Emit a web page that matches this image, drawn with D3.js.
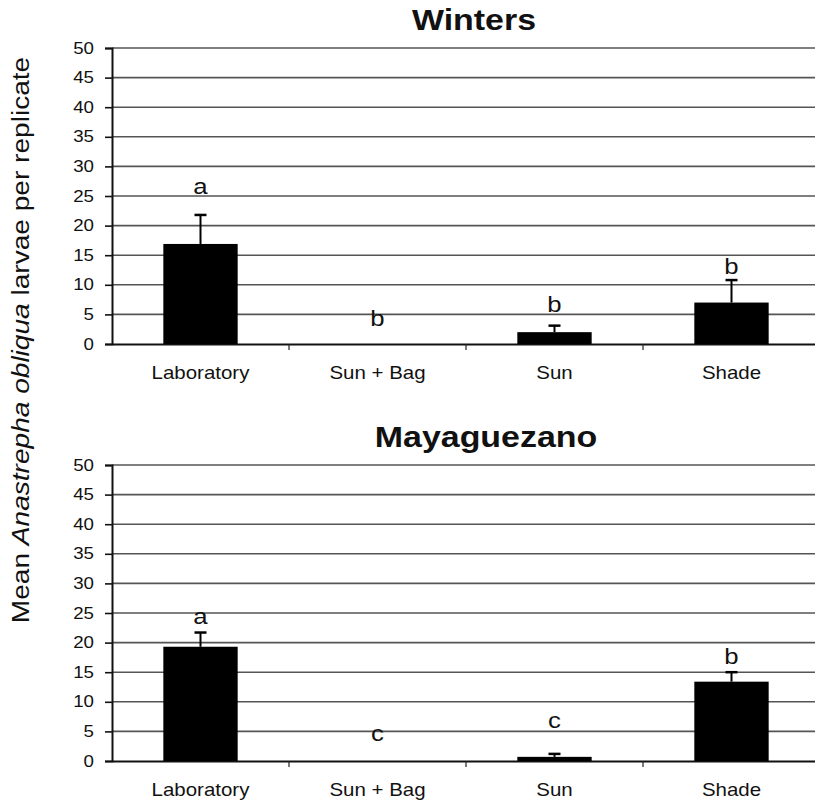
<!DOCTYPE html>
<html>
<head>
<meta charset="utf-8">
<script src="https://cdn.jsdelivr.net/npm/d3@7"></script>
<style>
  body { margin: 0; background: #fff; }
  svg { display: block; font-family: "Liberation Sans", Arial, sans-serif; }
</style>
</head>
<body>
<svg id="chart" width="815" height="803"></svg>
<script>
// Treatments along the x axis
const categories = ["Laboratory", "Sun + Bag", "Sun", "Shade"];
const yTicks = [0, 5, 10, 15, 20, 25, 30, 35, 40, 45, 50];

// Winters: mean larvae per replicate, standard error, separation letters
const wintersMean = [16.9, 0, 2.0, 7.0];
const wintersSE = [4.9, 0, 1.1, 3.8];
const wintersLetters = ["a", "b", "b", "b"];
const wintersLetterLevel = [25.3, 3.0, 5.4, 11.8];

// Mayaguezano
const mayaMean = [19.3, 0, 0.7, 13.4];
const mayaSE = [2.4, 0, 0.5, 1.6];
const mayaLetters = ["a", "c", "c", "b"];
const mayaLetterLevel = [23.1, 3.3, 5.6, 16.4];

const panels = [
  { title: "Winters", mean: wintersMean, se: wintersSE, letters: wintersLetters, level: wintersLetterLevel, top: 48, titleX: 474 },
  { title: "Mayaguezano", mean: mayaMean, se: mayaSE, letters: mayaLetters, level: mayaLetterLevel, top: 465, titleX: 486 }
];

const svg = d3.select("#chart");
const left = 112, right = 820, plotH = 296;
const WIDEN = 1.17; // horizontal widening applied to all lettering

// move a text's x/y into a transform so it can be widened around its anchor
function widen(sel, extra) {
  sel.each(function () {
    const t = d3.select(this);
    const tx = +t.attr("x") || 0, ty = +t.attr("y") || 0;
    t.attr("x", 0).attr("y", 0)
      .attr("transform", `translate(${tx},${ty}) ${extra || ""} scale(${WIDEN},1)`);
  });
}

const x = d3.scaleBand().domain(categories).range([left, right]).paddingInner(0).paddingOuter(0);
const barW = x.bandwidth() * 0.42;

panels.forEach(p => {
  const y = d3.scaleLinear().domain([0, 50]).range([p.top + plotH, p.top]);
  const g = svg.append("g");

  // title
  g.append("text")
    .attr("x", p.titleX).attr("y", p.top - 18)
    .attr("text-anchor", "middle")
    .attr("font-size", 29).attr("font-weight", "bold").attr("fill", "#111")
    .text(p.title)
    .call(widen);

  // horizontal gridlines
  g.selectAll("line.grid").data(yTicks.filter(d => d > 0)).enter().append("line")
    .attr("x1", left).attr("x2", right)
    .attr("y1", d => y(d)).attr("y2", d => y(d))
    .attr("stroke", "#555").attr("stroke-width", 1.6);

  // y axis
  const yAxis = d3.axisLeft(y).tickValues(yTicks).tickSize(7).tickPadding(11);
  const ya = g.append("g").attr("transform", `translate(${left},0)`).call(yAxis);
  ya.attr("font-size", null).attr("font-family", null);
  ya.select(".domain").attr("stroke", "#111").attr("stroke-width", 2);
  ya.selectAll(".tick line").attr("stroke", "#111").attr("stroke-width", 1.6);
  ya.selectAll(".tick text").attr("font-size", 16).attr("fill", "#111").call(widen);

  // x axis
  const xa = g.append("g").attr("transform", `translate(0,${p.top + plotH})`)
    .call(d3.axisBottom(x).tickSize(0).tickPadding(23));
  xa.attr("font-size", null).attr("font-family", null);
  xa.select(".domain").attr("stroke", "#111").attr("stroke-width", 2);
  xa.selectAll(".tick text").attr("font-size", 17.5).attr("fill", "#111").call(widen);
  // category separators
  g.selectAll("line.sep").data(categories.slice(1)).enter().append("line")
    .attr("x1", d => x(d)).attr("x2", d => x(d))
    .attr("y1", p.top + plotH).attr("y2", p.top + plotH + 6)
    .attr("stroke", "#222").attr("stroke-width", 1.2);

  // error bars (upper only)
  const data = categories.map((c, i) => ({ c, m: p.mean[i], s: p.se[i], l: p.letters[i], lv: p.level[i] }));
  data.filter(d => d.s > 0).forEach(d => {
    const cx = x(d.c) + x.bandwidth() / 2;
    g.append("line").attr("x1", cx).attr("x2", cx)
      .attr("y1", y(d.m)).attr("y2", y(d.m + d.s))
      .attr("stroke", "#000").attr("stroke-width", 2);
    g.append("line").attr("x1", cx - 6).attr("x2", cx + 6)
      .attr("y1", y(d.m + d.s)).attr("y2", y(d.m + d.s))
      .attr("stroke", "#000").attr("stroke-width", 2.5);
  });

  // bars
  g.selectAll("rect.bar").data(data).enter().append("rect")
    .attr("x", d => x(d.c) + x.bandwidth() / 2 - barW / 2)
    .attr("width", barW)
    .attr("y", d => y(d.m))
    .attr("height", d => y(0) - y(d.m))
    .attr("fill", "#000");

  // significance letters
  g.selectAll("text.letter").data(data).enter().append("text")
    .attr("x", d => x(d.c) + x.bandwidth() / 2)
    .attr("y", d => y(d.lv))
    .attr("text-anchor", "middle")
    .attr("font-size", 22).attr("fill", "#111")
    .text(d => d.l)
    .call(widen);
});

// y axis title (shared)
const yt = svg.append("text")
  .attr("x", 29).attr("y", 340)
  .attr("text-anchor", "middle")
  .attr("font-size", 24).attr("fill", "#111");
yt.append("tspan").text("Mean ");
yt.append("tspan").attr("font-style", "italic").text("Anastrepha obliqua");
yt.append("tspan").text(" larvae per replicate");
yt.call(widen, "rotate(-90)");
</script>
</body>
</html>
